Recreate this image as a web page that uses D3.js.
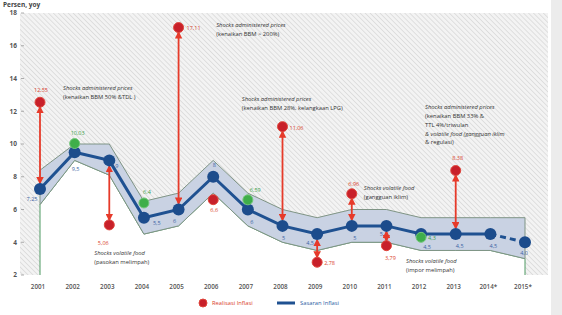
<!DOCTYPE html>
<html>
<head>
<meta charset="utf-8">
<script src="https://cdn.jsdelivr.net/npm/d3@7"></script>
<style>
  body { margin: 0; background: #fff; }
  svg { display: block; font-family: "Open Sans", "Liberation Sans", sans-serif; }
</style>
</head>
<body>
<div id="chart"></div>
<script>
const years = ['2001', '2002', '2003', '2004', '2005', '2006', '2007', '2008', '2009', '2010', '2011', '2012', '2013', '2014*', '2015*'];
const target = [7.25, 9.5, 9, 5.5, 6, 8, 6, 5, 4.5, 5, 5, 4.5, 4.5, 4.5, 4];
const targetLabels = ['7,25', '9,5', '9', '5,5', '6', '8', '6', '5', '4,5', '5', '5', '4,5', '4,5', '4,5', '4,0'];
const bandUpper = [8.4, 10, 10, 6.5, 7, 9, 7, 6, 5.5, 6, 6, 5.5, 5.5, 5.5, 5.5];
const bandLower = [6.3, 9, 8.1, 4.5, 5, 7, 5, 4, 3.5, 4, 4, 3.5, 3.5, 3.5, 3];
const actual = [12.55, 10.03, 5.06, 6.4, 17.11, 6.6, 6.59, 11.06, 2.78, 6.96, 3.79, 4.3, 8.38];
const actualLabels = ['12,55', '10,03', '5,06', '6,4', '17,11', '6,6', '6,59', '11,06', '2,78', '6,96', '3,79', '4,3', '8,38'];
const inTarget = [false, true, false, true, false, false, true, false, false, false, false, true, false];
const shockArrows = ['2001', '2003', '2005', '2008', '2009', '2010', '2011', '2013'];
const yTicks = [2, 4, 6, 8, 10, 12, 14, 16, 18];

const notes = [
  { year: '2001', value: 13.4, dx: 23, lines: ['Shocks administered prices', '(kenaikan BBM 50% &TDL )'] },
  { year: '2003', value: 3.35, dx: -15, lines: ['Shocks volatile food', '(pasokan melimpah)'] },
  { year: '2006', value: 17.25, dx: 3, lines: ['Shocks administered prices', '(kenaikan BBM > 200%)'] },
  { year: '2007', value: 12.75, dx: -6, lines: ['Shocks administered prices', '(kenaikan BBM 28%, kelangkaan LPG)'] },
  { year: '2010', value: 7.3, dx: 12, lines: ['Shocks volatile food', '(gangguan iklim)'] },
  { year: '2012', value: 12.25, dx: 4, lines: ['Shocks administered prices', '(kenaikan BBM 33% &', 'TTL 4%/triwulan', '& volatile food (gangguan iklim', '& regulasi)'] },
  { year: '2012', value: 2.85, dx: -15, lines: ['Shocks volatile food', '(impor melimpah)'] }
];

// label offsets (dx, dy, anchor) for target and realisation values
const targetOff = [[-8, 10, 'middle'], [1, 17, 'middle'], [6, 6, 'start'], [9, 5, 'start'], [-4, 12, 'middle'],
  [1, -12, 'middle'], [4, 13, 'middle'], [1, 12, 'middle'], [-7, 9, 'middle'], [3, 12, 'middle'],
  [-5, 8, 'middle'], [6, 13, 'middle'], [4, 12, 'middle'], [3, 12, 'middle'], [-1, 11, 'middle']];
const actualOff = [[1, -12, 'middle'], [3, -10, 'middle'], [-6, 18, 'middle'], [3, -11, 'middle'], [8, 1, 'start'],
  [1, 10, 'middle'], [2, -10, 'start'], [7, 1, 'start'], [7, 1, 'start'], [2, -10, 'middle'],
  [4, 12, 'middle'], [7, 1, 'start'], [2, -12, 'middle']];

const width = 562;
const height = 315;
const plot = { left: 20, right: 548, top: 13, bottom: 275 };

const svg = d3.select('#chart')
  .append('svg')
  .attr('width', width)
  .attr('height', height);

const x = d3.scalePoint()
  .domain(years)
  .range([40, 525]);

const y = d3.scaleLinear()
  .domain([2, 18])
  .range([plot.bottom, plot.top]);

const defs = svg.append('defs');

const hatch = defs.append('pattern')
  .attr('id', 'hatch')
  .attr('patternUnits', 'userSpaceOnUse')
  .attr('width', 3.5)
  .attr('height', 3.5)
  .attr('patternTransform', 'rotate(-45)');
hatch.append('rect').attr('width', 3.5).attr('height', 3.5).attr('fill', '#f3f3f3');
hatch.append('line').attr('x1', 0).attr('y1', 0).attr('x2', 0).attr('y2', 3.5)
  .attr('stroke', '#d6d6d6').attr('stroke-width', 1.4);

['start', 'end'].forEach((k) => {
  defs.append('marker')
    .attr('id', 'arrow-' + k)
    .attr('viewBox', '0 0 10 10')
    .attr('refX', 8)
    .attr('refY', 5)
    .attr('markerWidth', 4.2)
    .attr('markerHeight', 4.2)
    .attr('orient', k === 'start' ? 'auto-start-reverse' : 'auto')
    .append('path')
    .attr('d', 'M0,0L10,5L0,10z')
    .attr('fill', '#e63a2a');
});

// scanned page edge
svg.append('rect').attr('x', 551).attr('y', 0).attr('width', 11).attr('height', height).attr('fill', '#ececec');

svg.append('rect')
  .attr('x', plot.left)
  .attr('y', plot.top)
  .attr('width', plot.right - plot.left)
  .attr('height', plot.bottom - plot.top)
  .attr('fill', 'url(#hatch)');

// white area under the target band
const under = years.map((d, i) => [x(d), y(bandLower[i])]);
const underPath = [[x(years[0]), y(2)]].concat(under, [[x(years[years.length - 1]), y(2)]]);
svg.append('path')
  .attr('d', d3.line()(underPath) + 'Z')
  .attr('fill', '#fff');
svg.append('path')
  .attr('d', d3.line()(underPath))
  .attr('fill', 'none')
  .attr('stroke', '#4f9a62')
  .attr('stroke-width', 1);

// target band
const band = d3.area()
  .x((d, i) => x(years[i]))
  .y0((d, i) => y(bandLower[i]))
  .y1((d, i) => y(bandUpper[i]));
svg.append('path')
  .datum(target)
  .attr('d', band)
  .attr('fill', '#c9d2e3')
  .attr('stroke', '#7f9485')
  .attr('stroke-width', 1);

// y axis
const yAxis = svg.append('g');
yAxis.selectAll('line')
  .data(yTicks)
  .enter().append('line')
  .attr('x1', 21).attr('x2', 24)
  .attr('y1', (d) => y(d)).attr('y2', (d) => y(d))
  .attr('stroke', '#999').attr('stroke-width', 0.8);
yAxis.selectAll('text')
  .data(yTicks)
  .enter().append('text')
  .attr('x', 17)
  .attr('y', (d) => y(d))
  .attr('dy', '0.35em')
  .attr('text-anchor', 'end')
  .attr('font-size', 6.5)
  .attr('font-weight', 'bold')
  .attr('fill', '#555')
  .text((d) => d);

svg.append('text')
  .attr('x', 3)
  .attr('y', 7)
  .attr('font-size', 6.5)
  .attr('font-weight', 'bold')
  .attr('fill', '#444')
  .text('Persen, yoy');

// x axis labels
svg.append('g').selectAll('text')
  .data(years)
  .enter().append('text')
  .attr('x', (d) => x(d) - 2)
  .attr('y', 289)
  .attr('text-anchor', 'middle')
  .attr('font-size', 6.3)
  .attr('font-weight', 600)
  .attr('fill', '#555')
  .text((d) => d);

// target line (dashed for projection)
const solidPart = years.slice(0, 14).map((d, i) => [x(d), y(target[i])]);
const dashPart = years.slice(13).map((d, i) => [x(d), y(target[13 + i])]);
svg.append('path')
  .attr('d', d3.line()(solidPart))
  .attr('fill', 'none')
  .attr('stroke', '#1f5191')
  .attr('stroke-width', 3);
svg.append('path')
  .attr('d', d3.line()(dashPart))
  .attr('fill', 'none')
  .attr('stroke', '#1f5191')
  .attr('stroke-width', 3)
  .attr('stroke-dasharray', '6,4');

// shock arrows
const rT = 6;
const rA = 5;
svg.append('g').selectAll('line')
  .data(shockArrows)
  .enter().append('line')
  .each(function (d) {
    const i = years.indexOf(d);
    const ya = y(actual[i]);
    const yt = y(target[i]);
    const up = ya < yt;
    d3.select(this)
      .attr('x1', x(d)).attr('x2', x(d))
      .attr('y1', up ? ya + rA : ya - rA)
      .attr('y2', up ? yt - rT : yt + rT);
  })
  .attr('stroke', '#e63a2a')
  .attr('stroke-width', 1.8)
  .attr('marker-start', 'url(#arrow-start)')
  .attr('marker-end', 'url(#arrow-end)');

// target dots
svg.append('g').selectAll('circle')
  .data(target)
  .enter().append('circle')
  .attr('cx', (d, i) => x(years[i]))
  .attr('cy', (d) => y(d))
  .attr('r', rT)
  .attr('fill', '#1c4c8c');

svg.append('g').selectAll('text')
  .data(targetLabels)
  .enter().append('text')
  .attr('x', (d, i) => x(years[i]) + targetOff[i][0])
  .attr('y', (d, i) => y(target[i]) + targetOff[i][1])
  .attr('dy', '0.35em')
  .attr('text-anchor', (d, i) => targetOff[i][2])
  .attr('font-size', 5.5)
  .attr('fill', '#3d64a3')
  .text((d) => d);

// realisation dots
svg.append('g').selectAll('circle')
  .data(actual)
  .enter().append('circle')
  .attr('cx', (d, i) => x(years[i]))
  .attr('cy', (d) => y(d))
  .attr('r', rA)
  .attr('fill', (d, i) => inTarget[i] ? '#3fae4a' : '#c8202a')
  .attr('stroke', (d, i) => inTarget[i] ? '#74c77a' : '#e0463c')
  .attr('stroke-width', 1);

svg.append('g').selectAll('text')
  .data(actualLabels)
  .enter().append('text')
  .attr('x', (d, i) => x(years[i]) + actualOff[i][0])
  .attr('y', (d, i) => y(actual[i]) + actualOff[i][1])
  .attr('dy', '0.35em')
  .attr('text-anchor', (d, i) => actualOff[i][2])
  .attr('font-size', 5.5)
  .attr('fill', (d, i) => inTarget[i] ? '#3aa047' : '#d9412b')
  .text((d) => d);

// shock annotations
const note = svg.append('g').selectAll('text')
  .data(notes)
  .enter().append('text')
  .attr('font-size', 5.8)
  .attr('fill', '#333')
  .attr('x', (d) => x(d.year) + d.dx)
  .attr('y', (d) => y(d.value));
note.selectAll('tspan')
  .data((d) => d.lines.map((l, k) => ({ l, k, x: x(d.year) + d.dx })))
  .enter().append('tspan')
  .attr('x', (d) => d.x)
  .attr('dy', (d) => d.k === 0 ? '0.35em' : 8.8)
  .attr('font-style', (d) => d.k === 0 || d.l.indexOf('volatile') > -1 ? 'italic' : 'normal')
  .text((d) => d.l);

// legend
const legend = svg.append('g').attr('transform', 'translate(0, 303)');
legend.append('circle').attr('cx', 203).attr('cy', 0).attr('r', 4)
  .attr('fill', '#c8202a').attr('stroke', '#e0463c');
legend.append('text').attr('x', 212).attr('y', 0).attr('dy', '0.35em')
  .attr('font-size', 5.8).attr('fill', '#d9412b').text('Realisasi Inflasi');
legend.append('line').attr('x1', 277).attr('x2', 295).attr('y1', 0).attr('y2', 0)
  .attr('stroke', '#1f5191').attr('stroke-width', 3);
legend.append('text').attr('x', 300).attr('y', 0).attr('dy', '0.35em')
  .attr('font-size', 5.8).attr('fill', '#2d5da3').text('Sasaran Inflasi');
</script>
</body>
</html>
